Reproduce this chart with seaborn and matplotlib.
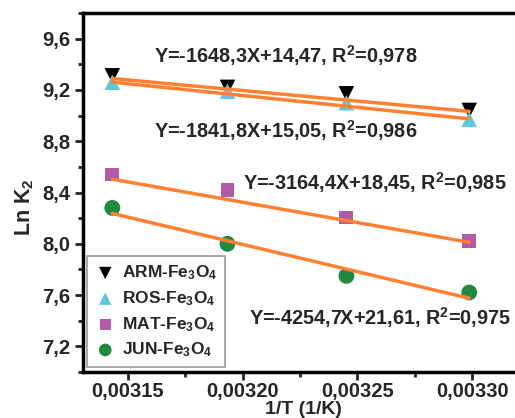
import numpy as np
import pandas as pd
import matplotlib
matplotlib.use("Agg")
import matplotlib.pyplot as plt
import seaborn as sns
from matplotlib.ticker import MultipleLocator, FuncFormatter

# ---- data ----
temps = [318.15, 313.15, 308.15, 303.15]
inv_T = [1.0 / t for t in temps]
series = ["ARM-Fe$_3$O$_4$", "ROS-Fe$_3$O$_4$", "MAT-Fe$_3$O$_4$", "JUN-Fe$_3$O$_4$"]
arm = [9.31, 9.22, 9.17, 9.04]
ros = [9.26, 9.19, 9.10, 8.97]
mat = [8.54, 8.42, 8.205, 8.02]
jun = [8.28, 8.00, 7.75, 7.62]
slopes = [-1648.3, -1841.8, -3164.4, -4254.7]
intercepts = [14.47, 15.05, 18.45, 21.61]
eq_texts = ["Y=-1648,3X+14,47, R$^2$=0,978",
            "Y=-1841,8X+15,05, R$^2$=0,986",
            "Y=-3164,4X+18,45, R$^2$=0,985",
            "Y=-4254,7X+21,61, R$^2$=0,975"]
xticks = [0.00315, 0.00320, 0.00325, 0.00330]
yticks = [7.2, 7.6, 8.0, 8.4, 8.8, 9.2, 9.6]

sns.set_style("white")
plt.rcParams['font.family'] = ['Liberation Sans', 'DejaVu Sans']
plt.rcParams['font.weight'] = 'bold'
plt.rcParams['mathtext.fontset'] = 'custom'
plt.rcParams['mathtext.rm'] = 'Liberation Sans:bold'
plt.rcParams['mathtext.it'] = 'Liberation Sans:bold'
plt.rcParams['mathtext.bf'] = 'Liberation Sans:bold'

W, H = 515, 418
fig = plt.figure(figsize=(W / 100, H / 100), dpi=100)
left, right, top, bottom = 83, 525, 13, 372
ax = fig.add_axes([left / W, 1 - bottom / H, (right - left) / W, (bottom - top) / H])

colors = ["#000000", "#5CC8DE", "#B05AA8", "#1E8B3E"]
markers = ["v", "^", "s", "o"]
sizes = [125, 125, 100, 130]
values = [arm, ros, mat, jun]

for name, vals, c, m, s in zip(series, values, colors, markers, sizes):
    df = pd.DataFrame({"x": inv_T, "y": vals})
    sns.scatterplot(data=df, x="x", y="y", marker=m, color=c, s=s,
                    edgecolor="none", label=name, ax=ax, zorder=2)

for sl, ic in zip(slopes, intercepts):
    xs = np.array([min(inv_T), max(inv_T)])
    df = pd.DataFrame({"x": xs, "y": sl * xs + ic})
    sns.lineplot(data=df, x="x", y="y", color="#FF8030", lw=2.5, ax=ax,
                 zorder=3, legend=False)

ax.set_xlim(0.0031304, 0.003323)
ax.set_ylim(7.0, 9.8)
ax.set_xticks(xticks)
ax.set_yticks(yticks)
ax.xaxis.set_minor_locator(MultipleLocator(0.000025))
ax.yaxis.set_minor_locator(MultipleLocator(0.2))
ax.xaxis.set_major_formatter(FuncFormatter(lambda v, p: f"{v:.5f}".replace(".", ",")))
ax.yaxis.set_major_formatter(FuncFormatter(lambda v, p: f"{v:.1f}".replace(".", ",")))
ax.tick_params(axis="both", which="major", direction="out", length=6, width=2,
               labelsize=14.5, bottom=True, left=True, top=False, right=False, pad=3)
ax.tick_params(axis="x", which="major", pad=1.5)
ax.tick_params(axis="both", which="minor", direction="out", length=3.5, width=2,
               bottom=True, left=True, top=False, right=False)
for lab in ax.get_xticklabels() + ax.get_yticklabels():
    lab.set_fontweight("bold")
for sp in ax.spines.values():
    sp.set_linewidth(2.5)
    sp.set_color("black")

ax.set_xlabel("")
ax.set_ylabel("")
fig.text(303 / W, 1 - 414 / H, "1/T (1/K)", fontsize=14, fontweight="bold",
         ha="center", va="baseline")
fig.text(25 / W, 1 - 207 / H, "Ln K$_2$", fontsize=15.5, fontweight="bold",
         ha="center", va="center", rotation=90)

eq_pos = [(154, 63), (154, 138), (243, 190), (249, 325)]
for t, (px, py) in zip(eq_texts, eq_pos):
    fig.text(px / W, 1 - py / H, t, fontsize=14.3, fontweight="bold",
             ha="left", va="baseline")

leg = ax.legend(loc="lower left", bbox_to_anchor=(4 / 442, 5 / 359), fontsize=12.5,
                frameon=True, fancybox=False, edgecolor="#808080",
                handletextpad=0.35, labelspacing=0.4, markerscale=0.8,
                borderpad=0.45, handlelength=1.2, borderaxespad=0)
leg.get_frame().set_linewidth(1.2)
for t in leg.get_texts():
    t.set_fontweight("bold")

fig.savefig("out.png", dpi=100)
